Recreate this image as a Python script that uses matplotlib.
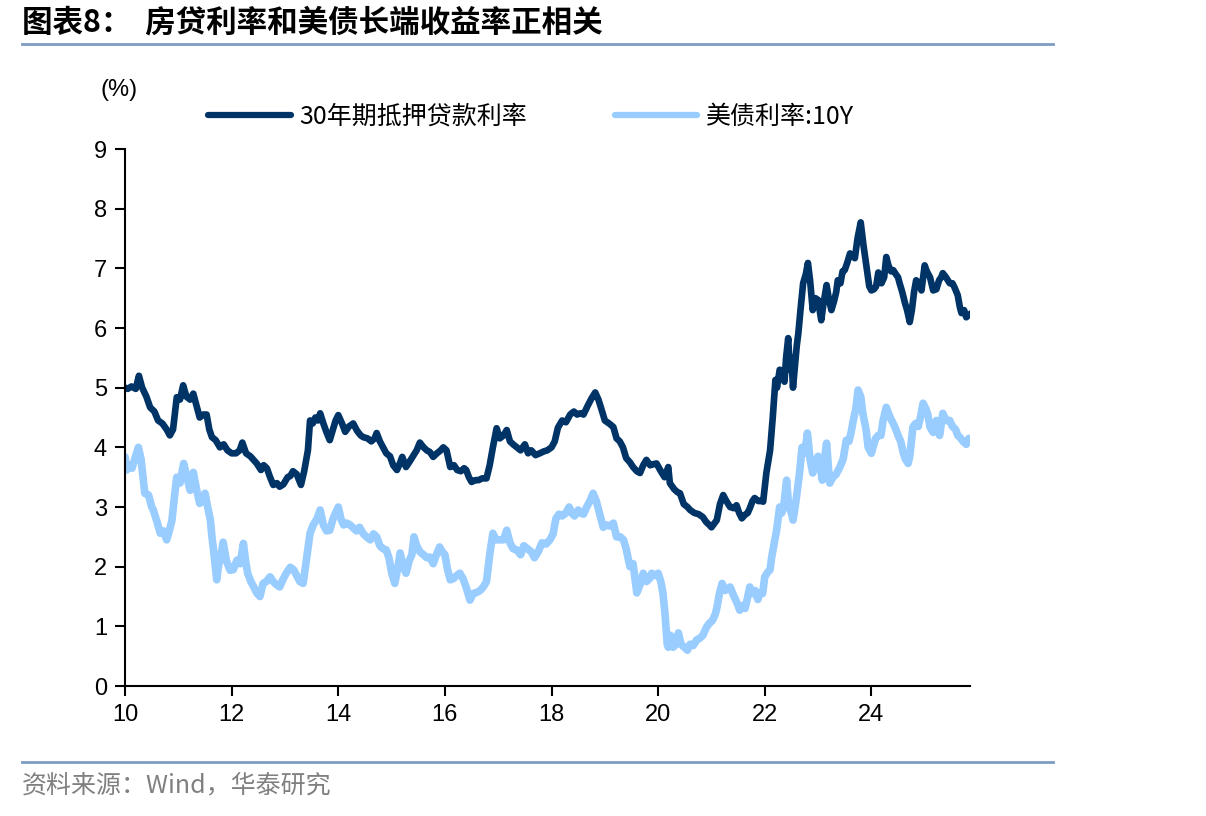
import numpy as np
import matplotlib
matplotlib.use("Agg")
import matplotlib.pyplot as plt
from matplotlib.lines import Line2D

plt.rcParams['font.family'] = ['Liberation Sans', 'Noto Sans CJK SC', 'DejaVu Sans']

# 30年期抵押贷款利率 (year as 2-digit + fraction, %)
mort_x = [10.00, 10.05, 10.12, 10.2, 10.26, 10.32, 10.4, 10.47, 10.55, 10.62, 10.7, 10.78, 10.84, 10.9, 10.97,
          11.03, 11.09, 11.15, 11.22, 11.28, 11.34, 11.4, 11.47, 11.53, 11.58, 11.63, 11.7, 11.78, 11.85, 11.92,
          12.0, 12.08, 12.15, 12.2, 12.27, 12.35, 12.42, 12.47, 12.55, 12.6, 12.66, 12.72, 12.78, 12.85, 12.9, 12.97,
          13.05, 13.1, 13.15, 13.22, 13.3, 13.36, 13.43, 13.47, 13.52, 13.57, 13.62, 13.66, 13.72, 13.78, 13.84, 13.9, 13.95,
          14.0, 14.07, 14.13, 14.2, 14.28, 14.35, 14.42, 14.47, 14.55, 14.62, 14.68, 14.72, 14.78, 14.84, 14.9, 14.97,
          15.03, 15.1, 15.15, 15.2, 15.27, 15.33, 15.4, 15.47, 15.53, 15.6, 15.66, 15.72, 15.78, 15.85, 15.92, 15.97,
          16.03, 16.1, 16.17, 16.23, 16.3, 16.36, 16.4, 16.45, 16.5, 16.57, 16.63, 16.7, 16.78, 16.84, 16.9, 16.97,
          17.03, 17.1, 17.16, 17.22, 17.28, 17.35, 17.42, 17.5, 17.56, 17.62, 17.7, 17.78, 17.85, 17.92,
          18.0, 18.06, 18.12, 18.2, 18.27, 18.35, 18.42, 18.48, 18.54, 18.6, 18.68, 18.75, 18.82, 18.88, 18.95,
          19.0, 19.08, 19.16, 19.22, 19.28, 19.34, 19.4, 19.47, 19.53, 19.6, 19.66, 19.72, 19.78, 19.85, 19.92, 19.97,
          20.05, 20.12, 20.19, 20.22, 20.3, 20.36, 20.41, 20.48, 20.55, 20.6, 20.68, 20.76, 20.84, 20.9, 20.96,
          21.0, 21.05, 21.1, 21.16, 21.22, 21.28, 21.35, 21.42, 21.47, 21.52, 21.57, 21.63, 21.68, 21.72, 21.77, 21.81, 21.88, 21.93, 21.97,
          22.03, 22.1, 22.15, 22.2, 22.23, 22.28, 22.32, 22.37, 22.4, 22.44, 22.47, 22.5, 22.53, 22.57, 22.6, 22.63, 22.67, 22.72, 22.77, 22.81, 22.85, 22.9, 22.95,
          23.0, 23.03, 23.06, 23.1, 23.16, 23.2, 23.25, 23.3, 23.34, 23.37, 23.42, 23.46, 23.5, 23.55, 23.6, 23.65, 23.69, 23.74, 23.8, 23.85, 23.91, 23.96,
          24.0, 24.05, 24.09, 24.13, 24.19, 24.24, 24.28, 24.32, 24.37, 24.41, 24.46, 24.5, 24.53, 24.58, 24.63, 24.67, 24.72, 24.76, 24.8, 24.84, 24.9, 24.94,
          25.0, 25.04, 25.1, 25.16, 25.22, 25.27, 25.31, 25.34, 25.4, 25.47, 25.52, 25.56, 25.62, 25.66, 25.69, 25.74, 25.78, 25.83, 25.88]
mort_y = [5.0, 4.98, 5.02, 4.98, 5.2, 5.0, 4.85, 4.67, 4.6, 4.45, 4.4, 4.3, 4.2, 4.3, 4.84,
          4.8, 5.04, 4.85, 4.8, 4.9, 4.7, 4.5, 4.55, 4.55, 4.3, 4.17, 4.12, 4.0, 4.05, 3.95,
          3.9, 3.9, 3.95, 4.08, 3.9, 3.85, 3.78, 3.73, 3.62, 3.7, 3.65, 3.5, 3.37, 3.4, 3.34, 3.38,
          3.5, 3.52, 3.6, 3.55, 3.37, 3.6, 3.95, 4.45, 4.4, 4.5, 4.45, 4.57, 4.4, 4.25, 4.12, 4.3, 4.45,
          4.54, 4.4, 4.26, 4.35, 4.4, 4.28, 4.2, 4.17, 4.15, 4.1, 4.15, 4.24, 4.1, 4.0, 3.9, 3.85,
          3.7, 3.62, 3.72, 3.84, 3.67, 3.75, 3.85, 3.95, 4.08, 4.0, 3.95, 3.92, 3.84, 3.9, 3.95, 4.0,
          3.95, 3.67, 3.7, 3.62, 3.6, 3.65, 3.62, 3.5, 3.42, 3.45, 3.45, 3.48, 3.48, 3.7, 4.0, 4.32,
          4.15, 4.2, 4.29, 4.1, 4.05, 4.0, 3.95, 4.05, 3.9, 3.95, 3.87, 3.9, 3.93, 3.95,
          4.0, 4.1, 4.33, 4.45, 4.42, 4.55, 4.6, 4.55, 4.57, 4.55, 4.7, 4.82, 4.92, 4.8, 4.6,
          4.45, 4.4, 4.34, 4.15, 4.1, 4.0, 3.82, 3.75, 3.67, 3.6, 3.57, 3.7, 3.79, 3.7, 3.72, 3.73,
          3.6, 3.5, 3.67, 3.4, 3.3, 3.25, 3.23, 3.05, 3.0, 2.95, 2.9, 2.88, 2.83, 2.75, 2.7,
          2.66, 2.72, 2.78, 3.05, 3.2, 3.1, 3.0, 2.98, 3.03, 2.9, 2.81, 2.87, 2.9, 2.98, 3.1, 3.15, 3.1, 3.1, 3.09,
          3.57, 3.95, 4.5, 5.13, 5.0, 5.3, 5.29, 5.1, 5.5, 5.83, 5.3, 5.5, 5.0, 5.4, 5.7, 5.91, 6.3, 6.75, 6.9, 7.09, 6.8, 6.3, 6.5,
          6.47, 6.3, 6.13, 6.4, 6.72, 6.5, 6.3, 6.45, 6.6, 6.8, 6.75, 6.95, 6.97, 7.1, 7.25, 7.2, 7.17, 7.5, 7.77, 7.4, 7.02, 6.7,
          6.63, 6.65, 6.7, 6.93, 6.75, 6.85, 7.19, 7.05, 6.95, 6.97, 6.9, 6.85, 6.75, 6.6, 6.42, 6.3, 6.1, 6.3, 6.6, 6.8, 6.75, 6.63,
          7.05, 6.95, 6.85, 6.63, 6.65, 6.8, 6.85, 6.92, 6.85, 6.75, 6.75, 6.68, 6.55, 6.35, 6.25, 6.3, 6.18, 6.22, 6.25]

# 美债利率:10Y
ust_x = [10.0, 10.03, 10.08, 10.13, 10.18, 10.25, 10.3, 10.37, 10.44, 10.5, 10.53, 10.6, 10.66, 10.72, 10.78, 10.83, 10.88, 10.93, 10.97,
         11.03, 11.1, 11.16, 11.22, 11.28, 11.34, 11.4, 11.45, 11.5, 11.55, 11.6, 11.63, 11.66, 11.72, 11.75, 11.8, 11.84, 11.9, 11.97,
         12.03, 12.1, 12.16, 12.22, 12.26, 12.3, 12.36, 12.42, 12.47, 12.53, 12.59, 12.65, 12.72, 12.78, 12.84, 12.9, 12.97,
         13.03, 13.1, 13.16, 13.22, 13.28, 13.34, 13.4, 13.47, 13.53, 13.6, 13.66, 13.72, 13.78, 13.84, 13.9, 13.95,
         14.0, 14.05, 14.1, 14.16, 14.22, 14.28, 14.34, 14.4, 14.47, 14.53, 14.6, 14.66, 14.72, 14.78, 14.84, 14.9, 14.95,
         15.0, 15.06, 15.12, 15.16, 15.22, 15.27, 15.33, 15.38, 15.42, 15.47, 15.53, 15.6, 15.66, 15.72, 15.78, 15.84, 15.9, 15.95,
         16.0, 16.05, 16.1, 16.16, 16.22, 16.28, 16.34, 16.4, 16.47, 16.53, 16.6, 16.66, 16.72, 16.78, 16.84, 16.9, 16.96,
         17.03, 17.1, 17.16, 17.22, 17.28, 17.35, 17.42, 17.48, 17.55, 17.62, 17.68, 17.75, 17.82, 17.9, 17.97,
         18.03, 18.08, 18.14, 18.2, 18.27, 18.33, 18.38, 18.43, 18.5, 18.54, 18.6, 18.66, 18.72, 18.78, 18.84, 18.9, 18.97,
         19.03, 19.1, 19.16, 19.22, 19.29, 19.35, 19.4, 19.47, 19.53, 19.6, 19.66, 19.72, 19.78, 19.84, 19.88, 19.94,
         20.0, 20.05, 20.09, 20.13, 20.17, 20.19, 20.23, 20.28, 20.34, 20.38, 20.43, 20.49, 20.55, 20.6, 20.66, 20.72, 20.78, 20.84, 20.91, 20.96,
         21.02, 21.07, 21.1, 21.15, 21.2, 21.25, 21.3, 21.35, 21.4, 21.45, 21.5, 21.53, 21.58, 21.63, 21.67, 21.72, 21.77, 21.82, 21.87, 21.91, 21.96,
         22.0, 22.05, 22.1, 22.13, 22.18, 22.22, 22.25, 22.28, 22.32, 22.36, 22.41, 22.45, 22.5, 22.53, 22.57, 22.6, 22.65, 22.7, 22.75, 22.8, 22.85, 22.9, 22.95,
         23.0, 23.03, 23.08, 23.12, 23.16, 23.2, 23.22, 23.28, 23.34, 23.41, 23.47, 23.53, 23.58, 23.62, 23.66, 23.71, 23.75, 23.8, 23.84, 23.9, 23.94,
         24.0, 24.03, 24.08, 24.13, 24.18, 24.22, 24.28, 24.33, 24.38, 24.41, 24.46, 24.5, 24.55, 24.6, 24.64, 24.69, 24.72, 24.75, 24.78, 24.83, 24.88, 24.92, 24.97,
         25.02, 25.06, 25.1, 25.16, 25.22, 25.28, 25.34, 25.4, 25.47, 25.52, 25.58, 25.62, 25.66, 25.72, 25.78, 25.83, 25.88]
ust_y = [3.84, 3.62, 3.7, 3.65, 3.8, 4.0, 3.8, 3.23, 3.2, 3.0, 2.95, 2.75, 2.56, 2.6, 2.45, 2.6, 2.78, 3.2, 3.5,
         3.4, 3.73, 3.5, 3.28, 3.58, 3.3, 3.06, 3.1, 3.23, 3.0, 2.78, 2.5, 2.28, 1.78, 2.0, 2.2, 2.41, 2.1, 1.94,
         1.95, 2.11, 2.05, 2.39, 2.1, 1.89, 1.75, 1.65, 1.56, 1.5, 1.72, 1.75, 1.83, 1.75, 1.7, 1.66, 1.8,
         1.9, 1.99, 1.95, 1.85, 1.75, 1.72, 2.1, 2.56, 2.7, 2.8, 2.95, 2.7, 2.6, 2.61, 2.8, 2.9,
         3.0, 2.8, 2.7, 2.73, 2.7, 2.65, 2.6, 2.66, 2.55, 2.5, 2.45, 2.55, 2.5, 2.35, 2.3, 2.28, 2.15,
         1.9, 1.72, 2.0, 2.23, 2.0, 1.89, 2.1, 2.2, 2.5, 2.35, 2.25, 2.2, 2.15, 2.16, 2.05, 2.2, 2.33, 2.25,
         2.2, 1.95, 1.78, 1.8, 1.85, 1.89, 1.8, 1.65, 1.44, 1.55, 1.57, 1.6, 1.66, 1.75, 2.2, 2.56, 2.45,
         2.45, 2.45, 2.61, 2.4, 2.3, 2.28, 2.2, 2.35, 2.3, 2.25, 2.15, 2.25, 2.4, 2.38, 2.45,
         2.55, 2.8, 2.88, 2.85, 2.9, 3.0, 2.9, 2.85, 2.95, 2.9, 2.88, 3.0, 3.1, 3.23, 3.1, 2.9, 2.66,
         2.7, 2.68, 2.73, 2.5, 2.5, 2.45, 2.3, 2.0, 2.05, 1.56, 1.7, 1.89, 1.75, 1.8, 1.89, 1.85,
         1.89, 1.75, 1.56, 1.2, 0.7, 0.65, 0.85, 0.65, 0.7, 0.89, 0.7, 0.65, 0.6, 0.7, 0.68, 0.77, 0.8, 0.85, 0.99, 1.05,
         1.1, 1.2, 1.3, 1.55, 1.72, 1.6, 1.62, 1.66, 1.55, 1.45, 1.35, 1.27, 1.35, 1.3, 1.45, 1.66, 1.55, 1.6, 1.45, 1.56, 1.55,
         1.83, 1.9, 1.95, 2.16, 2.4, 2.6, 2.8, 3.0, 2.9, 3.05, 3.45, 3.0, 2.9, 2.78, 3.0, 3.2, 3.55, 4.0, 3.9, 4.24, 3.8, 3.57, 3.75,
         3.85, 3.73, 3.45, 3.8, 4.07, 3.6, 3.4, 3.5, 3.55, 3.67, 3.8, 4.12, 4.1, 4.25, 4.45, 4.65, 4.96, 4.85, 4.57, 4.3, 4.0,
         3.9, 4.0, 4.15, 4.2, 4.2, 4.45, 4.67, 4.55, 4.45, 4.4, 4.3, 4.2, 4.1, 3.9, 3.8, 3.73, 3.85, 4.1, 4.34, 4.4, 4.35, 4.5, 4.74,
         4.65, 4.55, 4.34, 4.25, 4.45, 4.2, 4.57, 4.45, 4.45, 4.35, 4.3, 4.2, 4.17, 4.1, 4.05, 4.15, 4.1]

x_ticks = [10, 12, 14, 16, 18, 20, 22, 24]
y_ticks = list(range(0, 10))

navy = '#003366'
light = '#99ccff'

fig = plt.figure(figsize=(12.06, 8.16), dpi=100)
ax = fig.add_axes([0.1037, 0.1593, 0.7006, 0.6581])

ax.plot(ust_x, ust_y, color=light, lw=5.5, solid_joinstyle='round', solid_capstyle='round')
ax.plot(mort_x, mort_y, color=navy, lw=4.8, solid_joinstyle='round', solid_capstyle='round')

ax.set_xlim(10, 25.85)
ax.set_ylim(0, 9)
ax.set_xticks(x_ticks)
ax.set_yticks(y_ticks)
ax.tick_params(axis='both', labelsize=17, length=7, width=1.5, direction='out', pad=6)
for s in ['top', 'right']:
    ax.spines[s].set_visible(False)
for s in ['left', 'bottom']:
    ax.spines[s].set_linewidth(1.5)

handles = [Line2D([], [], color=navy, lw=4.5, solid_capstyle='round'),
           Line2D([], [], color=light, lw=4.5, solid_capstyle='round')]
fig.legend(handles, ['30年期抵押贷款利率', '美债利率:10Y'], loc='center left', ncol=2,
           bbox_to_anchor=(0.154, 0.857), frameon=False, handlelength=3.3,
           columnspacing=3.5, handletextpad=0.35, borderpad=0.4,
           prop={'family': ['Noto Sans CJK SC', 'Liberation Sans'], 'size': 18})

fig.text(0.083, 0.89, '(%)', fontsize=17, ha='left', va='center')

# title and source
fig.text(0.018, 0.972, '图表8：  房贷利率和美债长端收益率正相关', fontsize=22, fontweight='bold',
         ha='left', va='center', family=['Noto Sans CJK SC', 'DejaVu Sans'])
fig.add_artist(Line2D([0.018, 0.873], [0.946, 0.946], color='#7f9cc3', lw=2, transform=fig.transFigure))
fig.add_artist(Line2D([0.018, 0.873], [0.066, 0.066], color='#7f9cc3', lw=2, transform=fig.transFigure))
fig.text(0.018, 0.037, '资料来源：Wind，华泰研究', fontsize=18, color='#808080',
         ha='left', va='center', family=['Noto Sans CJK SC', 'Liberation Sans'])

fig.savefig('out.png', dpi=100)
